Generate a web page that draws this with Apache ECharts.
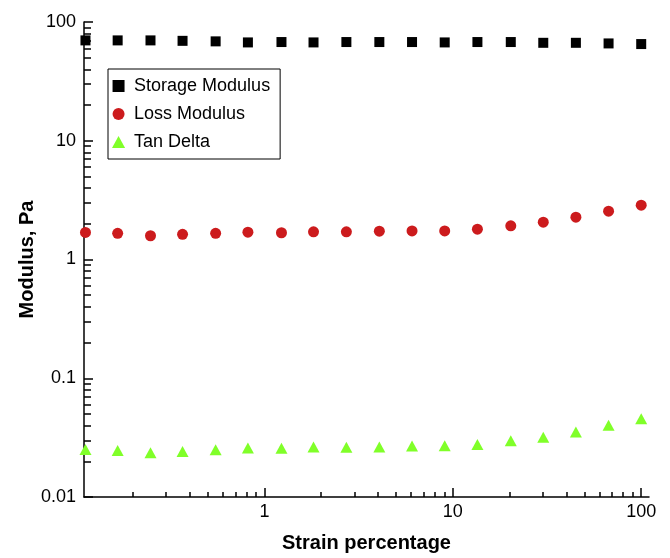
<!DOCTYPE html>
<html>
<head>
<meta charset="utf-8">
<script src="https://cdn.jsdelivr.net/npm/echarts@6/dist/echarts.min.js"></script>
<style>
html,body{margin:0;padding:0;background:#fff;overflow:hidden;}
#chart{width:670px;height:558px;}
</style>
</head>
<body>
<div id="chart"></div>
<script>
// ---- data ----
const strain = [0.112, 0.166, 0.248, 0.367, 0.55, 0.816, 1.23, 1.82, 2.72, 4.07, 6.07, 9.05, 13.5, 20.3, 30.2, 45.0, 67.1, 100];
const storageModulus = [70.0, 70.0, 70.0, 69.4, 68.7, 67.3, 67.8, 67.3, 67.8, 67.8, 67.8, 67.3, 67.8, 67.8, 66.8, 66.8, 66.0, 65.2];
const lossModulus = [1.69, 1.66, 1.585, 1.63, 1.66, 1.70, 1.68, 1.71, 1.71, 1.73, 1.74, 1.74, 1.80, 1.92, 2.06, 2.27, 2.55, 2.87];
const tanDelta = [0.0251, 0.0246, 0.0236, 0.0242, 0.0250, 0.0259, 0.0257, 0.0264, 0.0262, 0.0264, 0.0269, 0.0270, 0.0277, 0.0297, 0.0319, 0.0353, 0.0402, 0.0457];

const xMajorTicks = [1, 10, 100];
const xMinorTicks = [0.2, 0.3, 0.4, 0.5, 0.6, 0.7, 0.8, 0.9, 2, 3, 4, 5, 6, 7, 8, 9, 20, 30, 40, 50, 60, 70, 80, 90];
const yMajorTicks = [0.01, 0.1, 1, 10, 100];
const yMinorTicks = [0.02, 0.03, 0.04, 0.05, 0.06, 0.07, 0.08, 0.09, 0.2, 0.3, 0.4, 0.5, 0.6, 0.7, 0.8, 0.9, 2, 3, 4, 5, 6, 7, 8, 9, 20, 30, 40, 50, 60, 70, 80, 90];

const seriesNames = ['Storage Modulus', 'Loss Modulus', 'Tan Delta'];

const font = 'Liberation Sans, Arial, sans-serif';
const xMin = 0.11, xMax = 110, yMin = 0.01, yMax = 100;

function pairs(xs, ys) { return xs.map((x, i) => [x, ys[i]]); }

const chart = echarts.init(document.getElementById('chart'), null, {renderer: 'canvas', width: 670, height: 558});
chart.setOption({
  animation: false,
  backgroundColor: '#fff',
  grid: {left: 84, top: 22, width: 565, height: 480, containLabel: false},
  legend: {
    orient: 'vertical',
    left: 108, top: 69,
    borderColor: '#000', borderWidth: 1,
    padding: [8, 10, 8, 4],
    itemGap: 10,
    itemWidth: 21, itemHeight: 12,
    symbolKeepAspect: true,
    textStyle: {fontFamily: font, fontSize: 18, color: '#000'},
    data: [
      {name: seriesNames[0], icon: 'path://M0,0L10,0L10,10L0,10Z'},
      {name: seriesNames[1], icon: 'circle'},
      {name: seriesNames[2], icon: 'path://M6,0L12,11L0,11Z'}
    ]
  },
  xAxis: [{
    type: 'log', min: xMin, max: xMax, position: 'bottom',
    name: 'Strain percentage', nameLocation: 'middle', nameGap: 36, nameMoveOverlap: false,
    nameTextStyle: {fontFamily: font, fontSize: 20, fontWeight: 'bold', color: '#000'},
    axisLine: {show: true, lineStyle: {color: '#000', width: 1.5}},
    axisTick: {show: true, inside: true, length: 9, customValues: xMajorTicks, lineStyle: {color: '#000', width: 1.5}},
    axisLabel: {show: true, customValues: xMajorTicks, margin: 6, fontFamily: font, fontSize: 18, color: '#000'},
    splitLine: {show: false}
  }, {
    type: 'log', min: xMin, max: xMax, position: 'bottom',
    axisLine: {show: false},
    axisTick: {show: true, inside: true, length: 5, customValues: xMinorTicks, lineStyle: {color: '#000', width: 1.5}},
    axisLabel: {show: false},
    splitLine: {show: false}
  }],
  yAxis: [{
    type: 'log', min: yMin, max: yMax, position: 'left',
    name: 'Modulus, Pa', nameLocation: 'middle', nameGap: 47, nameMoveOverlap: false,
    nameTextStyle: {fontFamily: font, fontSize: 20, fontWeight: 'bold', color: '#000'},
    axisLine: {show: true, lineStyle: {color: '#000', width: 1.5}},
    axisTick: {show: true, inside: true, length: 9, customValues: yMajorTicks, lineStyle: {color: '#000', width: 1.5}},
    axisLabel: {show: true, customValues: yMajorTicks, margin: 8, fontFamily: font, fontSize: 18, color: '#000'},
    splitLine: {show: false}
  }, {
    type: 'log', min: yMin, max: yMax, position: 'left',
    axisLine: {show: false},
    axisTick: {show: true, inside: true, length: 7, customValues: yMinorTicks, lineStyle: {color: '#000', width: 1.5}},
    axisLabel: {show: false},
    splitLine: {show: false}
  }],
  series: [{
    name: seriesNames[0], type: 'scatter', symbol: 'rect', symbolSize: 10,
    itemStyle: {color: '#000000', opacity: 1},
    data: pairs(strain, storageModulus)
  }, {
    name: seriesNames[1], type: 'scatter', symbol: 'circle', symbolSize: 11,
    itemStyle: {color: '#cc1b1d', opacity: 1},
    data: pairs(strain, lossModulus)
  }, {
    name: seriesNames[2], type: 'scatter', symbol: 'triangle', symbolSize: [12, 11],
    itemStyle: {color: '#80ff29', opacity: 1},
    data: pairs(strain, tanDelta)
  }]
});
</script>
</body>
</html>
